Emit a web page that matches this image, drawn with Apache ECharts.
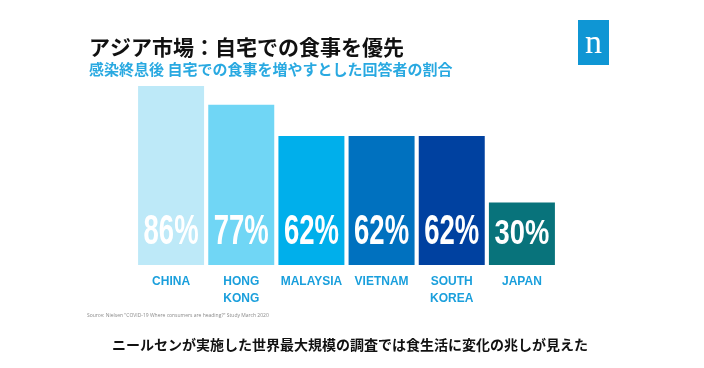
<!DOCTYPE html>
<html>
<head>
<meta charset="utf-8">
<script src="https://cdn.jsdelivr.net/npm/echarts@6/dist/echarts.min.js"></script>
<style>html,body{margin:0;padding:0;background:#fff;}#c{width:704px;height:368px;}</style>
</head>
<body>
<div id="c"></div>
<script>
const categories = ['CHINA', 'HONG KONG', 'MALAYSIA', 'VIETNAM', 'SOUTH KOREA', 'JAPAN'];
const values = [86, 77, 62, 62, 62, 30];
const barColors = ['#bde9f8', '#70d6f5', '#00afeb', '#0071bf', '#0041a0', '#08737b'];
const titleText = 'アジア市場：自宅での食事を優先';
const subtitleText = '感染終息後 自宅での食事を増やすとした回答者の割合';
const sourceText = 'Source: Nielsen "COVID-19 Where consumers are heading?" Study March 2020';
const captionText = 'ニールセンが実施した世界最大規模の調査では食生活に変化の兆しが見えた';

const sans = "'Liberation Sans', Arial, sans-serif";
const jp = "'Noto Sans CJK JP', sans-serif";

const chart = echarts.init(document.getElementById('c'), null, { renderer: 'canvas' });
chart.setOption({
  backgroundColor: '#ffffff',
  animation: false,
  grid: { left: 136, right: 147, top: 57, bottom: 103, containLabel: false },
  xAxis: {
    type: 'category',
    data: categories,
    axisLine: { show: false },
    axisTick: { show: false },
    axisLabel: {
      margin: 8,
      color: '#1a9fdc',
      fontFamily: sans,
      fontWeight: 'bold',
      fontSize: 12,
      lineHeight: 17,
      interval: 0,
      formatter: s => s.replace(' ', '\n')
    }
  },
  yAxis: {
    type: 'value', min: 0, max: 100,
    show: false,
    splitLine: { show: false }
  },
  series: [{
    type: 'bar',
    data: values.map((v, i) => ({ value: v, itemStyle: { color: barColors[i] } })),
    barWidth: 66
  }, {
    type: 'custom',
    data: values.map((v, i) => [i, v]),
    z: 5,
    renderItem: function (params, api) {
      const i = api.value(0);
      const v = api.value(1);
      const base = api.coord([i, 0]);
      const last = i === values.length - 1;
      return {
        type: 'text',
        x: base[0],
        y: base[1] - (last ? 31 : 33),
        scaleX: last ? 0.78 : 0.64,
        style: {
          text: v + '%',
          font: 'bold ' + (last ? 35 : 43) + 'px ' + sans,
          fill: '#ffffff',
          align: 'center',
          verticalAlign: 'middle'
        }
      };
    }
  }],
  graphic: [
    { type: 'text', left: 89, top: 37, style: { text: titleText, font: 'bold 21px ' + jp, fill: '#111111' } },
    { type: 'text', left: 89, top: 62, style: { text: subtitleText, font: 'bold 15px ' + jp, fill: '#29a9e1' } },
    { type: 'rect', shape: { x: 578, y: 20, width: 31, height: 45 }, style: { fill: '#0f96d4' } },
    { type: 'text', x: 593.5, y: 44, style: { text: 'n', font: '34px "Liberation Serif", "DejaVu Serif", serif', fill: '#ffffff', align: 'center', verticalAlign: 'middle' } },
    { type: 'text', left: 87, top: 313, style: { text: sourceText, font: '5px "Open Sans", sans-serif', fill: '#8a8a8a' } },
    { type: 'text', x: 350, y: 345, style: { text: captionText, font: 'bold 14px ' + jp, fill: '#111111', align: 'center', verticalAlign: 'middle' } }
  ]
});
</script>
</body>
</html>
